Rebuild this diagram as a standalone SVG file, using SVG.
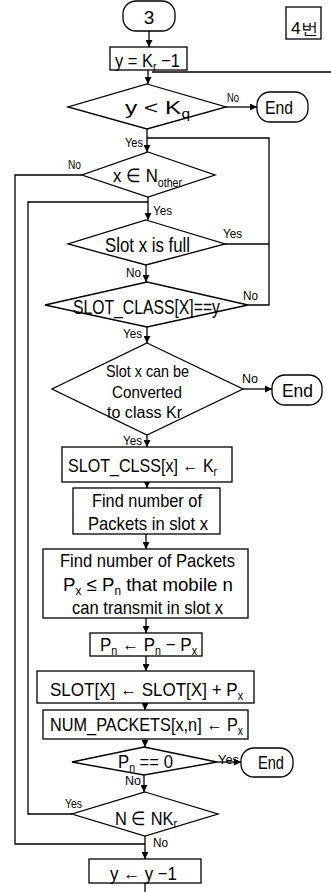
<svg xmlns="http://www.w3.org/2000/svg" width="331" height="892" viewBox="0 0 331 892">
<style>
.s{fill:#fff;stroke:#000;stroke-width:1.3}
.c{fill:none;stroke:#000;stroke-width:1.3}
text{font-family:"Liberation Sans",Arial,sans-serif;fill:#000}
.m{font-size:19px}
.t{font-size:17px}
.l{font-size:13px}
.sb{font-size:12px}
</style>
<defs>
<marker id="ah" viewBox="0 0 10 10" refX="10" refY="5" markerWidth="8" markerHeight="7" markerUnits="userSpaceOnUse" orient="auto">
<path d="M0,0 L10,5 L0,10 z" fill="#000"/>
</marker>
</defs>
<rect width="331" height="892" fill="#fff"/>
<g id="connectors">
<line class="c" x1="149" y1="31" x2="149" y2="47" marker-end="url(#ah)"/>
<line class="c" x1="148" y1="70" x2="148" y2="84" marker-end="url(#ah)"/>
<line class="c" x1="152" y1="72" x2="331" y2="72"/>
<line class="c" x1="226" y1="107" x2="257" y2="107" marker-end="url(#ah)"/>
<line class="c" x1="147" y1="129" x2="147" y2="152" marker-end="url(#ah)"/>
<polyline class="c" points="225,244 269,244"/>
<polyline class="c" points="248,305 269,305 269,138 147,138"/>
<line class="c" x1="148" y1="197" x2="148" y2="220" marker-end="url(#ah)"/>
<polyline class="c" points="72,814 28,814 28,202 148,202"/>
<polyline class="c" points="82,175 15,175 15,844 145,844"/>
<line class="c" x1="146" y1="265" x2="146" y2="282" marker-end="url(#ah)"/>
<line class="c" x1="147" y1="327" x2="147" y2="343" marker-end="url(#ah)"/>
<line class="c" x1="147" y1="435" x2="147" y2="447" marker-end="url(#ah)"/>
<line class="c" x1="243" y1="389" x2="272" y2="389" marker-end="url(#ah)"/>
<line class="c" x1="147" y1="482" x2="147" y2="488" marker-end="url(#ah)"/>
<line class="c" x1="146" y1="534" x2="146" y2="549" marker-end="url(#ah)"/>
<line class="c" x1="146" y1="618" x2="146" y2="633" marker-end="url(#ah)"/>
<line class="c" x1="146" y1="656" x2="146" y2="671" marker-end="url(#ah)"/>
<line class="c" x1="145" y1="703" x2="145" y2="710" marker-end="url(#ah)"/>
<line class="c" x1="145" y1="739" x2="145" y2="747" marker-end="url(#ah)"/>
<line class="c" x1="217" y1="762" x2="241" y2="762" marker-end="url(#ah)"/>
<line class="c" x1="144" y1="775" x2="144" y2="792" marker-end="url(#ah)"/>
<line class="c" x1="145" y1="836" x2="145" y2="859" marker-end="url(#ah)"/>
<line class="c" x1="145" y1="883" x2="145" y2="892"/>
<g class="l">
<text x="227" y="102" textLength="12" lengthAdjust="spacingAndGlyphs">No</text>
<text x="125" y="147" textLength="18" lengthAdjust="spacingAndGlyphs">Yes</text>
<text x="68" y="169" textLength="13" lengthAdjust="spacingAndGlyphs">No</text>
<text x="153" y="215" textLength="19" lengthAdjust="spacingAndGlyphs">Yes</text>
<text x="223" y="238" textLength="19" lengthAdjust="spacingAndGlyphs">Yes</text>
<text x="126" y="277" textLength="15" lengthAdjust="spacingAndGlyphs">No</text>
<text x="243" y="300" textLength="15" lengthAdjust="spacingAndGlyphs">No</text>
<text x="123" y="338" textLength="19" lengthAdjust="spacingAndGlyphs">Yes</text>
<text x="242" y="383" textLength="16" lengthAdjust="spacingAndGlyphs">No</text>
<text x="123" y="445" textLength="19" lengthAdjust="spacingAndGlyphs">Yes</text>
<text x="218" y="764" textLength="21" lengthAdjust="spacingAndGlyphs">Yes</text>
<text x="125" y="785" textLength="16" lengthAdjust="spacingAndGlyphs">No</text>
<text x="65" y="808" textLength="17" lengthAdjust="spacingAndGlyphs">Yes</text>
<text x="153" y="847" textLength="15" lengthAdjust="spacingAndGlyphs">No</text>
</g>
</g>
<g id="start">
<rect class="s" x="123" y="1" width="52" height="30" rx="13"/>
<text class="m" x="149" y="24" text-anchor="middle">3</text>
</g>
<g id="tag">
<rect class="s" x="286" y="7" width="35" height="32"/>
<text x="291" y="34" font-size="16" font-family="'Noto Sans CJK KR',sans-serif" textLength="27" lengthAdjust="spacingAndGlyphs">4번</text>
</g>
<g id="init">
<rect class="s" x="110" y="47" width="77" height="23"/>
<text class="m" x="115" y="67" textLength="65" lengthAdjust="spacingAndGlyphs">y = K<tspan class="sb" dy="4">r</tspan><tspan dy="-4"> −1</tspan></text>
</g>
<g id="d_yk">
<polygon class="s" points="147,84 226,107 147,129 68,107"/>
<text class="m" x="125" y="114" textLength="65" lengthAdjust="spacingAndGlyphs">y &lt; K<tspan class="sb" dy="4">q</tspan></text>
</g>
<g id="end1">
<rect class="s" x="257" y="92" width="51" height="30" rx="13"/>
<text class="m" x="265" y="114" textLength="28" lengthAdjust="spacingAndGlyphs">End</text>
</g>
<g id="d_xn">
<polygon class="s" points="148,152 215,175 148,197 82,175"/>
<text class="m" x="113" y="182" textLength="69" lengthAdjust="spacingAndGlyphs">x ∈ N<tspan class="sb" dy="5">other</tspan></text>
</g>
<g id="d_full">
<polygon class="s" points="146,220 225,244 146,265 68,244"/>
<text x="105" y="252" font-size="20" textLength="85" lengthAdjust="spacingAndGlyphs">Slot x is full</text>
</g>
<g id="d_class">
<polygon class="s" points="147,282 248,305 147,327 45,305"/>
<text x="73" y="314" font-size="20" textLength="147" lengthAdjust="spacingAndGlyphs">SLOT_CLASS[X]==y</text>
</g>
<g id="d_conv">
<polygon class="s" points="147,343 243,389 147,435 52,389"/>
<text class="t" x="106" y="377" textLength="83" lengthAdjust="spacingAndGlyphs">Slot x can be</text>
<text class="t" x="112" y="398" textLength="70" lengthAdjust="spacingAndGlyphs">Converted</text>
<text class="t" x="107" y="418" textLength="75" lengthAdjust="spacingAndGlyphs">to class Kr</text>
</g>
<g id="end2">
<rect class="s" x="272" y="375" width="50" height="30" rx="13"/>
<text class="m" x="282" y="397" textLength="31" lengthAdjust="spacingAndGlyphs">End</text>
</g>
<g id="b_clss">
<rect class="s" x="62" y="447" width="170" height="35"/>
<text class="m" x="68" y="472" textLength="149" lengthAdjust="spacingAndGlyphs">SLOT_CLSS[x] ← K<tspan class="sb" dy="4">r</tspan></text>
</g>
<g id="b_find1">
<rect class="s" x="73" y="488" width="147" height="46"/>
<text class="m" x="92" y="507" textLength="110" lengthAdjust="spacingAndGlyphs">Find number of</text>
<text class="m" x="88" y="530" textLength="120" lengthAdjust="spacingAndGlyphs">Packets in slot x</text>
</g>
<g id="b_find2">
<rect class="s" x="43" y="549" width="205" height="69"/>
<text class="m" x="60" y="567" textLength="175" lengthAdjust="spacingAndGlyphs">Find number of Packets</text>
<text class="m" x="63" y="591" textLength="170" lengthAdjust="spacingAndGlyphs">P<tspan class="sb" dy="4">x</tspan><tspan dy="-4"> ≤ P</tspan><tspan class="sb" dy="4">n</tspan><tspan dy="-4"> that mobile n</tspan></text>
<text class="m" x="72" y="614" textLength="151" lengthAdjust="spacingAndGlyphs">can transmit in slot x</text>
</g>
<g id="b_pn">
<rect class="s" x="90" y="633" width="112" height="23"/>
<text class="m" x="100" y="651" textLength="97" lengthAdjust="spacingAndGlyphs">P<tspan class="sb" dy="4">n</tspan><tspan dy="-4"> ← P</tspan><tspan class="sb" dy="4">n</tspan><tspan dy="-4"> − P</tspan><tspan class="sb" dy="4">x</tspan></text>
</g>
<g id="b_slot">
<rect class="s" x="37" y="671" width="217" height="32"/>
<text class="m" x="50" y="696" textLength="193" lengthAdjust="spacingAndGlyphs">SLOT[X] ← SLOT[X] + P<tspan class="sb" dy="4">x</tspan></text>
</g>
<g id="b_num">
<rect class="s" x="43" y="710" width="205" height="29"/>
<text class="m" x="50" y="731" textLength="193" lengthAdjust="spacingAndGlyphs">NUM_PACKETS[x,n] ← P<tspan class="sb" dy="4">x</tspan></text>
</g>
<g id="d_pn0">
<polygon class="s" points="144,747 217,762 144,775 72,762"/>
<text class="m" x="118" y="768" textLength="55" lengthAdjust="spacingAndGlyphs">P<tspan class="sb" dy="4">n</tspan><tspan dy="-4"> == 0</tspan></text>
</g>
<g id="end3">
<rect class="s" x="241" y="748" width="52" height="29" rx="13"/>
<text class="m" x="258" y="769" textLength="26" lengthAdjust="spacingAndGlyphs">End</text>
</g>
<g id="d_nk">
<polygon class="s" points="145,792 218,814 145,836 72,814"/>
<text class="m" x="115" y="825" textLength="62" lengthAdjust="spacingAndGlyphs">N ∈ NK<tspan class="sb" dy="3">r</tspan></text>
</g>
<g id="b_dec">
<rect class="s" x="89" y="859" width="112" height="24"/>
<text class="m" x="110" y="880" textLength="67" lengthAdjust="spacingAndGlyphs">y ← y −1</text>
</g>
</svg>
